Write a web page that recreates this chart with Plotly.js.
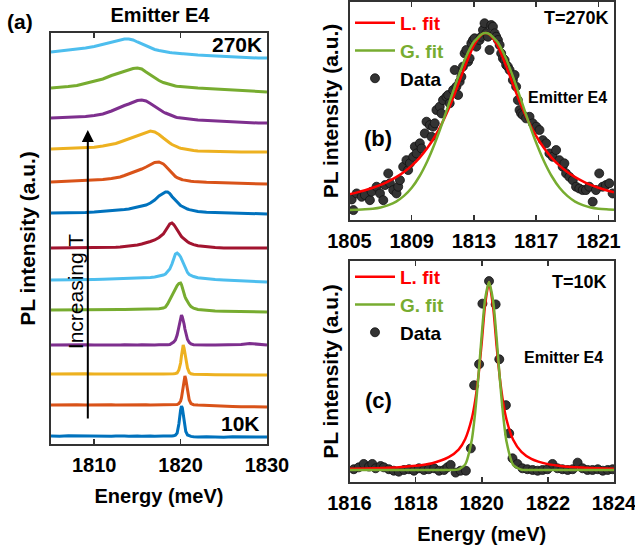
<!DOCTYPE html>
<html><head><meta charset="utf-8">
<script src="https://cdn.plot.ly/plotly-3.0.1.min.js"></script>
<style>html,body{margin:0;padding:0;background:#fff}#chart{width:635px;height:551px}</style>
</head><body><div id="chart"></div>
<script>
// ---------- Panel (a): stacked PL spectra, 10K (bottom) to 270K (top) ----------
const energyA = [1805,1806,1807,1808,1809,1810,1811,1812,1812.5,1813,1813.5,1814,1814.5,1815,1815.5,1816,1816.5,1817,1817.5,1818,1818.25,1818.5,1818.75,1819,1819.2,1819.4,1819.6,1819.8,1820,1820.1,1820.2,1820.3,1820.4,1820.5,1820.6,1820.8,1821,1821.2,1821.5,1822,1823,1824,1825,1826,1827,1828,1829,1830];
const s01 = [1,0.7,1.2,1,0.8,1.2,1,0.7,1,1.2,1,0.8,1.1,1,0.7,1.1,1,0.8,1.2,1,1,0.8,1.1,1,1.2,1.8,4,13,27,31,29,24,17,10,5.5,2,1,0.6,0.3,0,0.3,0,-0.2,0.2,0,-0.2,0.1,0];
const s02 = [0,0.3,0,0.2,0,0.3,0,0.2,0,0.1,0,0.2,0,0.1,0,0.2,0,0.1,0,0.2,0,0.1,0,0,0,0.2,0.5,1.5,4,7,12,19,26,29,26,14,5,1.5,0.3,0,-0.5,-1,-1.2,-1.5,-1.7,-2,-2,-2];
const s03 = [-1,-0.8,-1.1,-1,-0.7,-1,-1.2,-1,-0.8,-1,-1.1,-0.9,-1,-1.2,-1,-0.8,-1,-1.1,-1,-0.9,-1,-1,-1,-1,-0.8,-0.5,0,3,10,17,24,28,25,19,13,5,0.5,-0.8,-1.2,-1.5,-1.5,-1.7,-1.8,-2,-2,-2,-2,-2];
const s04 = [-4,-3.8,-4.2,-4,-3.7,-4,-4.2,-3.9,-4,-4.1,-3.8,-4,-4.2,-4,-3.8,-4,-4.1,-4,-3.8,-4,-4,-3.8,-3.5,-2.5,-1,1,6,14,22,26,24,21,17,12,7.5,1.5,-1.5,-3,-3.7,-4,-4,-4,-4,-4,-3.5,-2.5,-3,-4];
const s05 = [-1,-1,-1.2,-1,-0.9,-0.8,-0.7,-0.6,-0.5,-0.5,-0.4,-0.3,-0.2,-0.1,0,0,0,0,0.3,1,2,5,9.5,14,17.5,20.5,23.5,25.5,26,24.5,21,17.5,15,12.5,10.5,7,4.5,2.5,0.8,-0.5,-1.5,-2,-2.3,-2.5,-2.7,-2.8,-3,-3];
const s06 = [-3,-3,-3,-2.8,-2.6,-2.4,-2.2,-2,-1.9,-1.8,-1.7,-1.5,-1.3,-1.2,-1,-0.8,-0.5,0,0.8,2,3,5,8,13,19,23,24,22.5,20,18,16,13.5,11,9,7,4.5,2.5,1.5,0.5,-0.8,-1.8,-2.5,-3,-3.5,-4,-4.3,-4.7,-5];
const s07 = [-3,-3,-3,-3,-3,-3,-2.8,-2.5,-2.3,-2,-1.6,-1.2,-0.6,0,1,2,3.5,5,7.5,11,14,18,21,22,20.5,18,15,12,9.5,8.5,7.5,6.7,6,5.2,4.5,3.3,2.2,1.4,0.4,-0.8,-2,-2.6,-3,-3,-3,-3,-3,-3];
const s08 = [0,0,0,0.2,0.5,1,1.5,2,2.5,3,3.5,4,5,6,7,8,10,13,17,20,21,21,19.5,16.5,14.5,12.5,10.5,9,7.5,7,6.5,6,5.5,5,4.6,4,3.4,3,2.4,1.5,0.8,0.5,0.2,0,-0.3,-0.6,-0.8,-1];
const s09 = [-1,-0.7,-0.4,0,0.3,0.7,1.5,2.5,3.2,4,5.5,7,8.5,10,12,14,16.5,18.5,19,17,15,12.5,10,7.5,6,4.5,3.3,2.4,1.8,1.5,1.3,1.1,0.9,0.7,0.5,0.2,0,-0.2,-0.5,-1,-1.3,-1.6,-1.8,-2,-2.3,-2.6,-2.8,-3];
const s10 = [0,0.3,0.6,1,1.3,1.8,3,4.5,5.5,7,8.5,10,11.5,13,15,16.5,18,17,14.5,11,9,7.5,6,4.5,3.5,2.7,2,1.3,0.8,0.6,0.4,0.2,0,-0.2,-0.4,-0.7,-1,-1.2,-1.5,-2,-2.3,-2.6,-2.8,-3,-3,-3,-3,-3];
const s11 = [-1,-0.8,-0.5,0,0.5,1.5,3,6,8,9.5,11.5,13,15,16.5,17,16,13.5,10.5,7.5,5,4,3,2,1,0.4,0,-0.4,-0.7,-1,-1.1,-1.2,-1.3,-1.4,-1.5,-1.6,-1.8,-2,-2.2,-2.5,-3,-3.5,-4,-4.5,-5,-5.3,-5.6,-6,-6];
const s12 = [-3,-2.5,-1.5,-0.5,1.5,3.5,6,9.5,11,12.5,14,15.5,16.5,17,16,13,10,7,4.5,2.5,1.8,1,0.3,-0.5,-0.8,-1,-1.2,-1.4,-1.5,-1.6,-1.7,-1.8,-1.9,-2,-2.1,-2.2,-2.4,-2.5,-2.7,-3,-3.5,-4,-4.5,-5,-5.5,-6,-6.5,-7];
const s13 = [1,2,2.5,3.5,5,6.5,8.5,11,12,13,14,14,13,11,9,7,5,3.5,2.5,1.5,1.2,1,0.6,0.3,0,0,-0.3,-0.5,-0.6,-0.7,-0.8,-0.8,-0.9,-1,-1,-1.2,-1.4,-1.5,-1.7,-2,-2.5,-3,-3.5,-4,-4.3,-4.6,-5,-5];
const spectraA = [s01,s02,s03,s04,s05,s06,s07,s08,s09,s10,s11,s12,s13];
const spectraNames = ['10K','spectrum 2','spectrum 3','spectrum 4','spectrum 5','spectrum 6','spectrum 7','spectrum 8','spectrum 9','spectrum 10','spectrum 11','spectrum 12','270K'];
const tickA = [1810,1820,1830];

// ---------- Panel (b): T = 270K ----------
const fitE270 = [1805,1805.5,1806,1806.5,1807,1807.5,1808,1808.5,1809,1809.5,1810,1810.5,1811,1811.5,1812,1812.5,1813,1813.5,1813.75,1814,1814.5,1815,1815.5,1816,1816.5,1817,1817.5,1818,1818.5,1819,1819.5,1820,1820.5,1821,1821.5,1822];
const lFit270 = [0.090,0.100,0.112,0.126,0.142,0.162,0.186,0.215,0.251,0.295,0.350,0.417,0.500,0.599,0.712,0.829,0.931,0.992,1.0,0.992,0.931,0.829,0.712,0.599,0.500,0.417,0.350,0.295,0.251,0.215,0.186,0.162,0.142,0.126,0.112,0.100];
const gFit270 = [0.001,0.002,0.004,0.008,0.015,0.028,0.048,0.080,0.126,0.191,0.276,0.380,0.500,0.629,0.755,0.867,0.950,0.994,1.0,0.994,0.950,0.867,0.755,0.629,0.500,0.380,0.276,0.191,0.126,0.080,0.048,0.028,0.015,0.008,0.004,0.002];
const dataE270 = [1805.14,1805.25,1805.46,1805.78,1805.99,1806.31,1806.42,1806.74,1806.96,1807.17,1807.28,1807.49,1807.60,1807.81,1808.02,1808.13,1808.24,1808.45,1808.66,1808.77,1808.88,1809.09,1809.20,1809.31,1809.52,1809.63,1809.84,1809.95,1810.16,1810.27,1810.37,1810.48,1810.59,1810.80,1810.91,1811.01,1811.23,1811.34,1811.44,1811.66,1811.76,1811.87,1811.98,1812.08,1812.19,1812.29,1812.40,1812.51,1812.62,1812.72,1812.83,1812.94,1813.04,1813.15,1813.36,1813.47,1813.58,1813.68,1813.79,1813.90,1814.00,1814.11,1814.22,1814.33,1814.43,1814.54,1814.65,1814.75,1814.86,1814.97,1815.07,1815.18,1815.29,1815.50,1815.61,1815.71,1815.82,1815.93,1816.03,1816.14,1816.35,1816.57,1816.78,1817.00,1817.21,1817.42,1817.64,1817.85,1818.06,1818.28,1818.49,1818.70,1818.81,1818.92,1819.13,1819.35,1819.56,1819.77,1819.99,1820.20,1820.41,1820.63,1820.84,1821.05,1821.27,1821.48,1821.70,1821.91];
const dataI270 = [0.06,0.0,0.094,0.075,0.085,0.056,0.104,0.132,0.094,0.056,0.141,0.207,0.151,0.113,0.094,0.132,0.169,0.245,0.282,0.226,0.264,0.301,0.358,0.320,0.377,0.348,0.433,0.499,0.480,0.414,0.471,0.490,0.565,0.584,0.546,0.621,0.640,0.650,0.603,0.678,0.791,0.697,0.650,0.725,0.753,0.810,0.885,0.904,0.838,0.857,0.942,0.960,0.970,0.923,0.960,0.979,1.017,1.055,0.998,0.979,0.904,1.045,1.036,0.998,0.979,0.960,0.932,0.885,0.857,0.847,0.819,0.810,0.791,0.734,0.763,0.697,0.621,0.565,0.546,0.537,0.518,0.527,0.490,0.471,0.452,0.395,0.377,0.320,0.301,0.339,0.282,0.245,0.264,0.207,0.188,0.169,0.132,0.122,0.113,0.113,0.132,0.047,0.113,0.207,0.132,0.141,0.151,0.094];
const tickB = [1805,1809,1813,1817,1821];

// ---------- Panel (c): T = 10K ----------
const fitE10 = [1816,1816.5,1817,1817.5,1818,1818.5,1819,1819.3,1819.5,1819.7,1819.8,1819.9,1820,1820.1,1820.22,1820.35,1820.45,1820.55,1820.65,1820.75,1820.95,1821.2,1821.5,1822,1822.5,1823,1823.5,1824];
const lFit10 = [0.006,0.008,0.011,0.015,0.022,0.036,0.068,0.108,0.165,0.275,0.367,0.5,0.679,0.877,1.0,0.858,0.659,0.485,0.356,0.267,0.161,0.096,0.059,0.031,0.019,0.013,0.0094,0.0071];
const gFit10 = [0,0,0,0,0,0,0,0.003,0.030,0.161,0.304,0.5,0.721,0.907,1.0,0.892,0.70,0.479,0.287,0.150,0.027,0.0015,0,0,0,0,0,0];
const dataE10 = [1816.13,1816.28,1816.43,1816.59,1816.69,1816.79,1816.94,1817.04,1817.19,1817.34,1817.49,1817.65,1817.80,1817.95,1818.10,1818.25,1818.40,1818.56,1818.71,1818.86,1818.96,1819.06,1819.21,1819.36,1819.52,1819.67,1819.77,1819.92,1820.02,1820.22,1820.42,1820.53,1820.73,1820.83,1820.93,1821.08,1821.23,1821.38,1821.54,1821.69,1821.84,1821.99,1822.14,1822.29,1822.44,1822.60,1822.75,1822.90,1823.05,1823.20,1823.35,1823.51,1823.66,1823.81,1823.96];
const dataI10 = [0.004,0.014,0.032,0.018,0.032,0.009,0.021,0.014,0.004,-0.004,-0.009,0,0.004,-0.004,0.009,0,0.004,0.009,-0.004,0,0.014,0.027,-0.014,-0.004,-0.004,0.115,0.451,0.563,0.885,1.005,0.881,0.589,0.345,0.195,0.062,0.032,0.009,0.004,0,-0.004,0,0.004,0.032,0.009,0.004,0,0.004,0.039,0.009,0,0,0.004,-0.004,0,0.004];
const tickC = [1816,1818,1820,1822,1824];

// ---------- styling ----------
const FONT = 'Liberation Sans, Arial, sans-serif';
const lineColors = ['#0072BD','#D95319','#EDB120','#7E2F8E','#77AC30','#4DBEEE','#A2142F'];
const STEP = 32;
const RED = '#FF0000', GREEN = '#77AC30';

const traces = [];
spectraA.forEach((vals, i) => {
  traces.push({
    type: 'scatter', mode: 'lines', x: energyA,
    y: vals.map(v => v + i * STEP),
    name: spectraNames[i], showlegend: false,
    line: {color: lineColors[i % 7], width: 3},
    xaxis: 'x', yaxis: 'y', hoverinfo: 'skip'
  });
});

function panelTraces(ax, ay, legendId, fe, lf, gf, de, di) {
  return [
    {type:'scatter', mode:'markers', x: de, y: di, name:'<b>Data</b>', legend: legendId, legendrank: 3,
     marker:{color:'#333333', size:9, line:{color:'#111', width:0.8}}, xaxis: ax, yaxis: ay},
    {type:'scatter', mode:'lines', x: fe, y: lf, name:'<b><span style="color:#FF0000">L. fit</span></b>', legend: legendId, legendrank: 1,
     line:{color: RED, width:2.5, shape:'spline', smoothing:0.6}, xaxis: ax, yaxis: ay},
    {type:'scatter', mode:'lines', x: fe, y: gf, name:'<b><span style="color:#77AC30">G. fit</span></b>', legend: legendId, legendrank: 2,
     line:{color: GREEN, width:2.5, shape:'spline', smoothing:0.6}, xaxis: ax, yaxis: ay}
  ];
}
traces.push(...panelTraces('x2','y2','legend', fitE270, lFit270, gFit270, dataE270, dataI270));
traces.push(...panelTraces('x3','y3','legend2', fitE10, lFit10, gFit10, dataE10, dataI10));

const W = 635, H = 551;
const px = v => v / W, py = v => 1 - v / H;

function xAx(domain, range, ticks, anchor, title) {
  const a = {
    domain, range, anchor, tickvals: ticks, ticktext: ticks.map(String),
    ticks: 'inside', ticklen: 5, tickwidth: 1.5, tickcolor: '#333',
    showline: true, linecolor: '#333', linewidth: 2, mirror: 'ticks',
    showgrid: false, zeroline: false, fixedrange: true,
    tickfont: {family: 'Liberation Sans', size: 20, weight: 'bold', color: '#000'},
    ticklabelstandoff: 2, ticklabeloverflow: 'allow'
  };
  if (title) a.title = {text: title, font: {family: 'Liberation Sans', size: 20, weight: 'bold', color: '#000'}, standoff: 14};
  return a;
}
function yAx(domain, range, anchor, standoff) {
  return {
    domain, range, anchor, showticklabels: false, ticks: '',
    showline: true, linecolor: '#333', linewidth: 2, mirror: true,
    showgrid: false, zeroline: false, fixedrange: true,
    title: {text: 'PL intensity (a.u.)', font: {family: 'Liberation Sans', size: 21, weight: 'bold', color: '#000'}, standoff: standoff}
  };
}

const legendBase = {
  bgcolor: 'rgba(0,0,0,0)', borderwidth: 0, xanchor: 'left', yanchor: 'top',
  font: {family: 'Liberation Sans', size: 19, weight: 'bold', color: '#000'},
  itemwidth: 40, tracegroupgap: 0, traceorder: 'normal'
};

const ann = (o) => Object.assign({showarrow: false, font: {family: 'Liberation Sans', size: 21, weight: 'bold', color: '#000'}}, o);
const bf = (size) => ({family: 'Liberation Sans', size: size, weight: 'bold', color: '#000'});

const layout = {
  width: W, height: H, margin: {l: 0, r: 0, t: 0, b: 0},
  paper_bgcolor: '#fff', plot_bgcolor: '#fff',
  font: {family: FONT, color: '#000'},
  title: {text: 'Emitter E4', x: px(160), y: py(15), xanchor: 'center', yanchor: 'middle', font: bf(20)},
  xaxis: xAx([px(51), px(267)], [1805, 1830], tickA, 'y', 'Energy (meV)'),
  yaxis: yAx([py(444), py(33)], [-7, 404], 'x', 8),
  xaxis2: xAx([px(349.5), px(614)], [1805, 1822], tickB, 'y2', null),
  yaxis2: yAx([py(220), py(2)], [-0.056, 1.175], 'x2', 3),
  xaxis3: xAx([px(349.5), px(614)], [1816, 1824], tickC, 'y3', 'Energy (meV)'),
  yaxis3: yAx([py(482), py(261)], [-0.064, 1.112], 'x3', 3),
  legend: Object.assign({}, legendBase, {x: px(350), y: py(4)}),
  legend2: Object.assign({}, legendBase, {x: px(350), y: py(258)}),
  annotations: [
    ann({text: '(a)', xref: 'paper', yref: 'paper', x: px(20), y: py(22), xanchor: 'center', yanchor: 'middle'}),
    ann({text: '270K', xref: 'x', yref: 'y', x: 1829.6, y: 392, xanchor: 'right', yanchor: 'middle'}),
    ann({text: '10K', xref: 'x', yref: 'y', x: 1829.4, y: 14, xanchor: 'right', yanchor: 'middle'}),
    ann({text: 'Increasing T', xref: 'x', yref: 'y', x: 1807.8, y: 145, textangle: -90,
         xanchor: 'center', yanchor: 'middle', font: {family: 'Liberation Sans', size: 21, weight: 'normal', color: '#000'}}),
    {text: '', xref: 'x', yref: 'y', x: 1809.26, y: 307, axref: 'x', ayref: 'y', ax: 1809.26, ay: 17,
     showarrow: true, arrowhead: 2, arrowsize: 1.2, arrowwidth: 2, arrowcolor: '#000'},
    ann({text: 'T=270K', xref: 'x2', yref: 'y2', x: 1821.8, y: 1.085, xanchor: 'right', yanchor: 'middle', font: bf(18)}),
    ann({text: 'Emitter E4', xref: 'x2', yref: 'y2', x: 1819.0, y: 0.638, xanchor: 'center', yanchor: 'middle', font: bf(16)}),
    ann({text: '(b)', xref: 'x2', yref: 'y2', x: 1806.83, y: 0.407, xanchor: 'center', yanchor: 'middle', font: bf(22)}),
    ann({text: 'T=10K', xref: 'x3', yref: 'y3', x: 1823.85, y: 1.0, xanchor: 'right', yanchor: 'middle', font: bf(18)}),
    ann({text: 'Emitter E4', xref: 'x3', yref: 'y3', x: 1822.48, y: 0.596, xanchor: 'center', yanchor: 'middle', font: bf(16)}),
    ann({text: '(c)', xref: 'x3', yref: 'y3', x: 1816.88, y: 0.372, xanchor: 'center', yanchor: 'middle', font: bf(22)})
  ]
};

Plotly.newPlot('chart', traces, layout, {staticPlot: true, displayModeBar: false});
</script>
</body></html>
